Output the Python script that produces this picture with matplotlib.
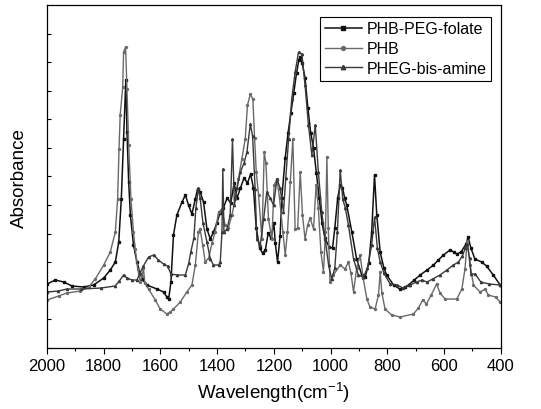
import matplotlib
matplotlib.use("Agg")
import matplotlib.pyplot as plt
from matplotlib.ticker import MultipleLocator

plt.rcParams["font.family"] = ["Liberation Sans", "DejaVu Sans"]
plt.rcParams["mathtext.fontset"] = "custom"
plt.rcParams["mathtext.rm"] = "Liberation Sans"

# PHB-PEG-folate spectrum (wavenumber, absorbance a.u.)
folate_wn = [2000, 1971, 1941, 1912, 1871, 1836, 1800, 1777, 1759, 1747, 1738, 1730, 1722, 1718,
             1712, 1706, 1695, 1683, 1665, 1648, 1612, 1589, 1577, 1571, 1563, 1554, 1542, 1524,
             1512, 1501, 1489, 1477, 1469, 1460, 1448, 1436, 1424, 1413, 1401, 1390, 1378, 1365,
             1352, 1340, 1330, 1318, 1305, 1293, 1282, 1272, 1262, 1250, 1240, 1230, 1220, 1210,
             1200, 1195, 1187, 1178, 1172, 1160, 1150, 1140, 1130, 1120, 1112, 1107, 1100, 1090,
             1080, 1070, 1060, 1050, 1040, 1030, 1020, 1005, 993, 985, 975, 966, 958, 950, 943,
             925, 908, 890, 878, 865, 855, 845, 837, 825, 812, 802, 778, 755, 737, 725, 705, 684,
             660, 637, 620, 602, 579, 565, 555, 540, 522, 515, 505, 491, 467, 450, 426, 402]
folate_abs = [64, 68, 66, 62, 61, 63, 70, 78, 86, 106, 149, 209, 268, 216,
              166, 133, 103, 86, 69, 63, 59, 56, 51, 49, 66, 113, 133, 146,
              153, 143, 134, 149, 159, 156, 146, 119, 109, 116, 125, 135, 140, 150,
              145, 165, 150, 160, 170, 165, 174, 160, 120, 100, 95, 98, 115, 110,
              125, 105, 86, 112, 150, 190, 215, 235, 255, 275, 288, 291, 285, 270,
              240, 215, 200, 175, 150, 125, 110, 101, 100, 120, 150, 163, 160, 150, 143,
              116, 89, 73, 71, 85, 116, 173, 133, 96, 80, 73, 63, 59, 61, 63, 68, 73,
              78, 83, 88, 93, 98, 96, 94, 96, 104, 111, 100, 89, 86, 82, 73, 63]

# PHB spectrum
phb_wn = [2000, 1959, 1930, 1883, 1853, 1830, 1800, 1777, 1759, 1751, 1746, 1742, 1733, 1730,
          1723, 1718, 1712, 1704, 1695, 1689, 1680, 1671, 1665, 1660, 1655, 1642, 1618, 1601,
          1577, 1565, 1554, 1530, 1507, 1489, 1477, 1466, 1460, 1451, 1442, 1430, 1418, 1407,
          1395, 1383, 1372, 1360, 1348, 1336, 1325, 1313, 1301, 1293, 1283, 1274, 1268, 1262,
          1254, 1242, 1234, 1228, 1219, 1207, 1199, 1189, 1180, 1168, 1160, 1152, 1142, 1133,
          1125, 1116, 1107, 1099, 1090, 1081, 1072, 1060, 1051, 1043, 1034, 1025, 1018, 1013,
          1008, 1002, 990, 966, 949, 937, 928, 919, 908, 896, 885, 872, 861, 843, 831, 825,
          819, 808, 784, 755, 708, 690, 675, 662, 645, 626, 614, 596, 555, 537, 526, 518,
          508, 496, 473, 455, 444, 418, 402]
phb_abs = [48, 52, 55, 57, 61, 69, 83, 96, 116, 149, 199, 233, 261, 296,
           301, 259, 203, 149, 116, 99, 79, 66, 72, 80, 65, 59, 48, 39,
           34, 36, 39, 46, 56, 63, 83, 116, 119, 103, 86, 90, 105, 116,
           136, 139, 123, 120, 133, 149, 169, 189, 209, 243, 254, 249, 210, 176,
           153, 109, 196, 185, 129, 109, 163, 169, 150, 116, 93, 116, 166, 209,
           119, 120, 176, 133, 109, 123, 130, 119, 163, 140, 96, 76, 116, 191,
           120, 66, 73, 83, 79, 86, 75, 56, 80, 93, 70, 49, 41, 39, 53, 76,
           55, 39, 33, 31, 34, 40, 48, 44, 53, 64, 55, 49, 49, 59, 79, 107,
           83, 63, 56, 59, 53, 51, 46]

# PHEG-bis-amine spectrum
pheg_wn = [2000, 1960, 1930, 1880, 1810, 1760, 1745, 1730, 1718, 1700, 1683, 1672, 1660, 1642,
           1624, 1607, 1589, 1575, 1563, 1540, 1512, 1500, 1493, 1482, 1475, 1466, 1460, 1450,
           1436, 1424, 1413, 1395, 1389, 1383, 1380, 1376, 1365, 1354, 1346, 1339, 1330, 1318,
           1305, 1295, 1283, 1275, 1266, 1260, 1248, 1236, 1225, 1213, 1201, 1189, 1178, 1166,
           1158, 1148, 1137, 1125, 1113, 1101, 1090, 1078, 1066, 1054, 1043, 1031, 1019, 1007,
           996, 985, 976, 966, 957, 948, 937, 919, 902, 884, 870, 855, 845, 835, 825, 812,
           790, 767, 743, 720, 696, 678, 660, 640, 614, 590, 567, 549, 535, 525, 518, 510,
           505, 490, 470, 440, 402]
pheg_abs = [56, 57, 59, 59, 60, 62, 67, 73, 70, 68, 68, 75, 82, 91,
            93, 88, 84, 82, 74, 73, 73, 85, 96, 110, 140, 160, 150, 125,
            106, 89, 83, 83, 86, 116, 179, 116, 119, 133, 209, 143, 160, 176,
            185, 196, 224, 212, 159, 109, 103, 129, 156, 150, 143, 169, 160, 136,
            170, 209, 249, 276, 296, 294, 263, 223, 193, 223, 176, 136, 109, 83,
            69, 80, 116, 178, 149, 140, 123, 89, 73, 71, 80, 103, 131, 100, 86, 75,
            64, 63, 60, 63, 66, 68, 66, 69, 73, 78, 83, 86, 92, 100, 104, 90,
            74, 74, 66, 64, 63]

fig = plt.figure(figsize=(5.41, 4.10), dpi=100)
ax = fig.add_axes([0.0869, 0.1488, 0.8386, 0.8362])

ax.plot(folate_wn, folate_abs, color="#111111", lw=1.1, marker="s", ms=1.6,
        label="PHB-PEG-folate")
ax.plot(phb_wn, phb_abs, color="#6a6a6a", lw=1.0, marker="o", ms=1.4,
        label="PHB")
ax.plot(pheg_wn, pheg_abs, color="#3a3a3a", lw=1.0, marker="^", ms=1.6,
        label="PHEG-bis-amine")

ax.set_xlim(2000, 400)
ax.set_ylim(0, 343)
ax.xaxis.set_major_locator(MultipleLocator(200))
ax.xaxis.set_minor_locator(MultipleLocator(100))
ax.yaxis.set_major_locator(MultipleLocator(28.6))
ax.tick_params(axis="x", which="major", direction="out", length=4, width=0.8,
               labelsize=12, pad=3)
ax.tick_params(axis="x", which="minor", direction="out", length=2.5, width=0.8)
ax.tick_params(axis="y", which="major", direction="in", length=3, width=0.8,
               labelleft=False)
for s in ax.spines.values():
    s.set_linewidth(0.9)

ax.set_xlabel("Wavelength(cm$^{-1}$)", fontsize=13.5, labelpad=5)
ax.set_ylabel("Absorbance", fontsize=13.5, labelpad=14)

leg = ax.legend(loc="upper right", bbox_to_anchor=(0.997, 0.99), fontsize=11.5,
                frameon=True, fancybox=False, framealpha=1, edgecolor="black",
                handlelength=2.3, handletextpad=0.3, labelspacing=0.3,
                borderpad=0.3, markerscale=2)
leg.get_frame().set_linewidth(0.8)

fig.savefig("out.png", dpi=100)
